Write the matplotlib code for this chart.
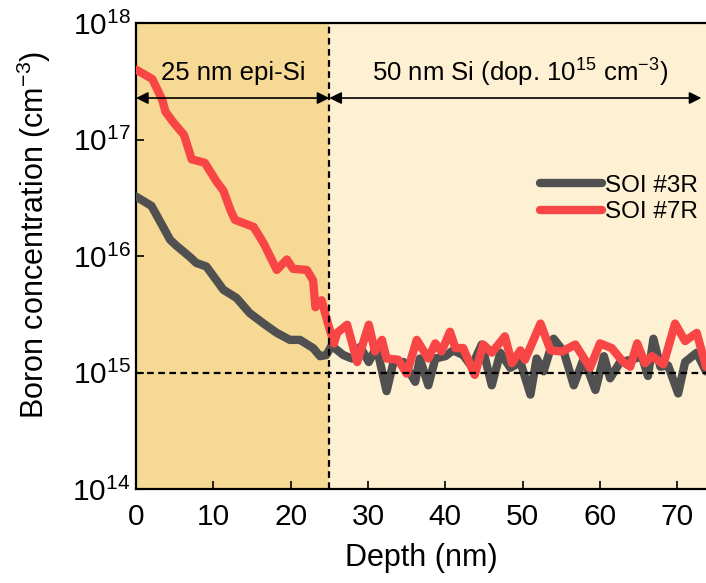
import matplotlib.pyplot as plt
import numpy as np

plt.rcParams['font.family'] = ['Liberation Sans', 'DejaVu Sans']
plt.rcParams['mathtext.fontset'] = 'custom'
plt.rcParams['mathtext.rm'] = 'Liberation Sans'
plt.rcParams['mathtext.it'] = 'Liberation Sans:italic'
plt.rcParams['mathtext.default'] = 'regular'

# SIMS profiles (depth in nm, log10 of concentration in cm^-3)
depth_3r = [0.0, 2.0, 3.5, 4.4, 5.2, 7.0, 7.8, 9.1, 11.3, 13.0, 14.7, 16.5, 18.2, 19.9,
            21.2, 22.9, 23.8, 24.6, 25.3, 26.8, 27.9, 29.0, 30.1, 31.1, 32.4, 33.3,
            34.6, 36.1, 36.7, 37.8, 38.7, 40.0, 41.0, 42.3, 43.4, 44.7, 46.0, 47.1,
            48.4, 49.7, 51.0, 51.8, 52.7, 54.0, 55.3, 56.6, 57.9, 59.4, 60.5, 61.3,
            62.6, 64.1, 65.4, 66.2, 66.9, 67.8, 68.8, 70.1, 71.0, 72.5, 73.7]
logc_3r = [16.51, 16.43, 16.25, 16.14, 16.09, 15.99, 15.94, 15.91, 15.71, 15.64, 15.51,
           15.42, 15.34, 15.28, 15.28, 15.21, 15.14, 15.15, 15.23, 15.15, 15.12, 15.22,
           15.09, 15.22, 14.84, 15.09, 15.09, 14.92, 15.12, 14.89, 15.12, 15.14, 15.19,
           15.15, 15.05, 15.24, 14.89, 15.17, 15.04, 15.09, 14.81, 15.12, 15.01, 15.29,
           15.18, 14.89, 15.12, 14.85, 15.14, 14.95, 15.09, 15.11, 15.14, 14.97, 15.29,
           15.05, 15.06, 14.82, 15.09, 15.17, 15.01]

depth_7r = [0.0, 2.1, 3.4, 3.8, 4.8, 6.2, 7.2, 8.9, 10.4, 11.3, 12.3, 12.8, 15.2, 16.5,
            18.2, 19.5, 20.3, 22.1, 22.9, 23.2, 24.0, 24.9, 25.6, 26.0, 27.3, 28.6,
            30.1, 30.9, 31.8, 32.4, 33.9, 35.0, 36.3, 37.8, 38.7, 39.5, 40.6, 41.3,
            42.3, 43.8, 44.9, 46.0, 47.7, 48.6, 49.7, 50.3, 52.3, 53.6, 55.1, 56.8,
            58.7, 60.0, 61.5, 63.0, 63.9, 64.8, 65.8, 66.7, 68.2, 69.7, 71.0, 72.5, 73.7]
logc_7r = [17.60, 17.52, 17.34, 17.24, 17.15, 17.04, 16.83, 16.80, 16.64, 16.56, 16.38,
           16.31, 16.25, 16.11, 15.88, 15.97, 15.89, 15.88, 15.79, 15.56, 15.62, 15.40,
           15.25, 15.34, 15.41, 15.09, 15.41, 15.18, 15.28, 15.12, 15.11, 14.99, 15.28,
           15.12, 15.25, 15.18, 15.35, 15.21, 15.21, 14.98, 15.24, 15.17, 15.31, 15.08,
           15.19, 15.11, 15.42, 15.19, 15.18, 15.24, 15.04, 15.25, 15.21, 15.09, 15.05,
           15.25, 15.08, 15.14, 15.07, 15.42, 15.27, 15.34, 15.05]

labels = ['SOI #3R', 'SOI #7R']
epi_thickness = 25
x_max = 73.7

fig = plt.figure(figsize=(7.06, 5.83), dpi=100)
ax = fig.add_axes([136 / 706, 94 / 583, 570 / 706, 466 / 583])

ax.axvspan(0, epi_thickness, color='#f5d995', lw=0, zorder=0)
ax.axvspan(epi_thickness, x_max, color='#fef0d3', lw=0, zorder=0)

ax.plot(depth_3r, 10 ** np.array(logc_3r), color='#505050', lw=6,
        solid_joinstyle='round', solid_capstyle='round', label=labels[0], zorder=3)
ax.plot(depth_7r, 10 ** np.array(logc_7r), color='#f84545', lw=6,
        solid_joinstyle='round', solid_capstyle='round', label=labels[1], zorder=4)

ax.axhline(1e15, color='black', ls=(0, (3, 2)), lw=1.6, zorder=5)
ax.axvline(epi_thickness, color='black', ls=(0, (3, 2)), lw=1.6, zorder=5)

# layer arrows
arrow_y = 10 ** 17.356
arrow_kw = dict(arrowstyle='<|-|>', color='black', lw=1.2, mutation_scale=18,
                shrinkA=0, shrinkB=0)
ax.annotate('', xy=(0, arrow_y), xytext=(epi_thickness, arrow_y), arrowprops=arrow_kw, zorder=6)
ax.annotate('', xy=(epi_thickness, arrow_y), xytext=(x_max - 0.6, arrow_y), arrowprops=arrow_kw, zorder=6)
ax.text(12.6, 10 ** 17.57, '25 nm epi-Si', ha='center', va='center', fontsize=18.5)
ax.text(49.7, 10 ** 17.57, r'50 nm Si (dop. 10$^{15}$ cm$^{-3}$)', ha='center', va='center',
        fontsize=18.5)

ax.set_yscale('log')
ax.set_ylim(1e14, 1e18)
ax.set_xlim(0, x_max)
ax.set_xticks(range(0, 71, 10))
ax.set_yticks([1e14, 1e15, 1e16, 1e17, 1e18])
ax.yaxis.set_minor_locator(plt.NullLocator())
ax.tick_params(direction='in', length=6, width=1.2, labelsize=21.5)
ax.tick_params(axis='x', pad=10)
ax.tick_params(axis='y', pad=4)
ax.spines['right'].set_visible(False)
for s in ['left', 'top', 'bottom']:
    ax.spines[s].set_linewidth(1.6)

ax.set_xlabel('Depth (nm)', fontsize=22)
ax.set_ylabel(r'Boron concentration (cm$^{-3}$)', fontsize=22)
ax.xaxis.set_label_coords(0.5, -0.115)
ax.yaxis.set_label_coords(-0.145, 0.545)

ax.legend(loc='upper right', bbox_to_anchor=(1.012, 0.706), frameon=False, fontsize=17.5,
          handlelength=2.55, handletextpad=0.15, labelspacing=0.2, borderaxespad=0.2)

fig.savefig('out.png', dpi=100)
